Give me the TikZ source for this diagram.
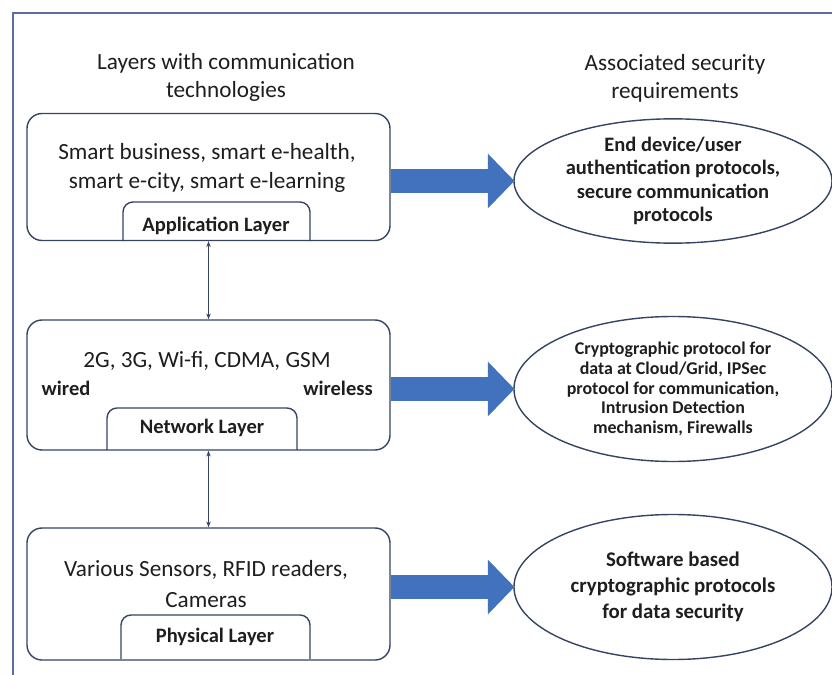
\documentclass[tikz,border=0pt]{standalone}
\usepackage{fontspec}
\setmainfont{Carlito}
\usetikzlibrary{shapes.geometric, arrows.meta}

\definecolor{framec}{RGB}{88,112,160}
\definecolor{linec}{RGB}{52,68,98}
\definecolor{arrowc}{RGB}{66,114,190}
\definecolor{textc}{RGB}{30,30,30}

\begin{document}
\begin{tikzpicture}[x=0.03cm, y=-0.03cm,
    every node/.style={text=textc},
    layer/.style={draw=linec, line width=1.2pt, rounded corners=0.45cm, minimum width=10.89cm},
    req/.style={ellipse, draw=linec, line width=1.2pt, minimum width=9.54cm, inner sep=0pt, align=center},
    big/.style={font=\fontsize{19.8}{24}\selectfont, align=center},
    tab/.style={font=\fontsize{17.5}{20}\selectfont\bfseries, inner sep=0pt},
    bluearrow/.style={draw=arrowc, line width=0.7cm, -{Triangle[width=1.6cm, length=0.8cm]}, shorten >=-1pt},
    updown/.style={draw=linec, line width=0.9pt, {Stealth[length=5pt]}-{Stealth[length=5pt]}}]
    \useasboundingbox (0,0) rectangle (832,675);

    % frame
    \draw[framec, line width=1.2pt] (13,675) -- (13,13) -- (832,13);

    % headings
    \node[big] (lefthead) at (226,77) {Layers with communication\\technologies};
    \node[big] (righthead) at (675,78) {Associated security\\requirements};

    % the three layers
    \node[layer, minimum height=3.81cm] (app) at (208.5,177) {};
    \node[layer, minimum height=3.9cm] (net) at (208.5,385) {};
    \node[layer, minimum height=3.96cm] (phy) at (208.5,594) {};

    \node[big, font=\fontsize{19.8}{25.5}\selectfont] (apptext) at (207,168) {Smart business, smart e-health,\\smart e-city, smart e-learning};
    \node[big] (nettext) at (207,361) {2G, 3G, Wi-fi, CDMA, GSM};
    \node[tab] (wired) at (66,388) {wired};
    \node[tab] (wireless) at (338,388) {wireless};
    \node[big, font=\fontsize{19.8}{27}\selectfont] (phytext) at (206,584) {Various Sensors, RFID readers,\\Cameras};

    % tabs at the bottom of each layer
    \node[tab] (apptab) at (216,226) {Application Layer};
    \node[tab] (nettab) at (202,428) {Network Layer};
    \node[tab] (phytab) at (215,637) {Physical Layer};
    \draw[linec, line width=1.2pt, rounded corners=0.3cm] (123,241) |- (216,202) -| (310,241);
    \draw[linec, line width=1.2pt, rounded corners=0.3cm] (107,450) |- (202,408) -| (297,450);
    \draw[linec, line width=1.2pt, rounded corners=0.3cm] (121,659) |- (215,615) -| (310,659);

    % links between the layers
    \draw[updown] (app.south) -- (net.north);
    \draw[updown] (net.south) -- (phy.north);

    % security requirements
    \node[req, minimum height=3.69cm, font=\fontsize{17.5}{20}\selectfont\bfseries] (req1) at (673,181)
        {End device/user\\authentication protocols,\\secure communication\\protocols};
    \node[req, minimum height=4.35cm, font=\fontsize{15.3}{17}\selectfont\bfseries] (req2) at (673,389)
        {Cryptographic protocol for\\data at Cloud/Grid, IPSec\\protocol for communication,\\Intrusion Detection\\mechanism, Firewalls};
    \node[req, minimum height=4.35cm, font=\fontsize{17.8}{22}\selectfont\bfseries] (req3) at (673,587)
        {Software based\\cryptographic protocols\\for data security};

    \draw[bluearrow] (app.east |- req1.west) -- (req1.west);
    \draw[bluearrow] (net.east |- req2.west) -- (req2.west);
    \draw[bluearrow] (phy.east |- req3.west) -- (req3.west);
\end{tikzpicture}
\end{document}
